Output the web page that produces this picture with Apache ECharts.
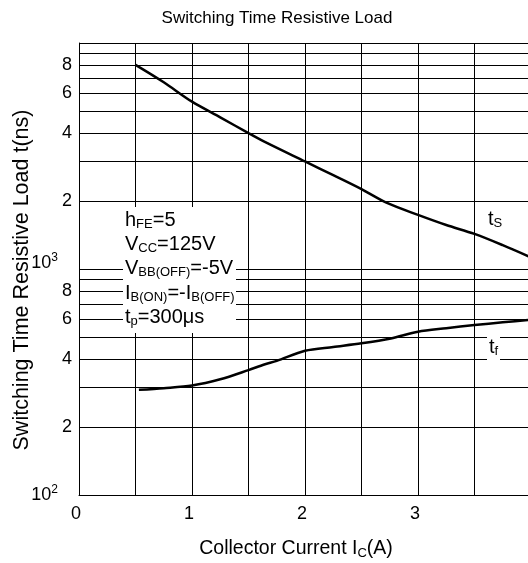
<!DOCTYPE html>
<html>
<head>
<meta charset="utf-8">
<script src="https://cdn.jsdelivr.net/npm/echarts@6/dist/echarts.min.js"></script>
<style>
  html, body { margin: 0; padding: 0; background: #fff; }
  #main { width: 528px; height: 563px; }
</style>
</head>
<body>
<div id="main"></div>
<script>
// t_S (storage time)
var tsCurrent = [0.5, 0.75, 1.0, 1.25, 1.5, 1.64, 2.0, 2.25, 2.5, 2.72, 3.0, 3.25, 3.5, 3.75, 4.0];
var tsTime = [8000, 6700, 5500, 4690, 3990, 3660, 2990, 2600, 2255, 1965, 1735, 1565, 1430, 1275, 1125];

// t_f (fall time)
var tfCurrent = [0.53, 0.75, 1.0, 1.25, 1.5, 1.64, 1.75, 2.0, 2.25, 2.5, 2.76, 3.0, 3.25, 3.5, 3.75, 4.0];
var tfTime = [292, 297, 305, 325, 357, 378, 392, 435, 452, 469, 493, 528, 547, 565, 581, 597];

// minor grid lines of the log axis and their labels
var gridValues = [200, 300, 400, 500, 600, 700, 800, 900, 2000, 3000, 4000, 5000, 6000, 7000, 8000, 9000];
var gridLabels = ['2', '', '4', '', '6', '', '8', '', '2', '', '4', '', '6', '', '8', ''];

var xTickLabels = ['0', '1', '2', '3'];

var FONT = 'Liberation Sans, Arial, sans-serif';

var chart = echarts.init(document.getElementById('main'));

function pairs(xs, ys) {
  var out = [];
  for (var i = 0; i < xs.length; i++) out.push([xs[i], ys[i]]);
  return out;
}

var sub = { fontSize: 13, lineHeight: 12, verticalAlign: 'bottom', fontFamily: FONT, fill: '#000' };

function noteText(x, y, txt) {
  return {
    type: 'text', x: x, y: y, z: 101,
    style: {
      text: txt, fontSize: 20, lineHeight: 22, fontFamily: FONT, fill: '#000',
      verticalAlign: 'middle', align: 'left',
      rich: { s: sub }
    }
  };
}

var option = {
  animation: false,
  textStyle: { fontFamily: FONT, color: '#000' },
  title: {
    text: 'Switching Time Resistive Load',
    left: 272, top: 5, textAlign: 'center',
    textStyle: { fontSize: 17, fontWeight: 'normal', color: '#000', fontFamily: FONT }
  },
  grid: { left: 79, top: 43, right: -3, bottom: 68, containLabel: false, outerBoundsMode: 'none' },
  xAxis: {
    type: 'value', min: 0, max: 4, interval: 0.5,
    name: 'Collector Current I{s|C}(A)',
    nameLocation: 'middle', nameGap: 43, nameMoveOverlap: false,
    nameTextStyle: {
      fontSize: 19.5, lineHeight: 22, color: '#000', fontFamily: FONT, padding: [0, 18, 0, 0],
      rich: { s: { fontSize: 13, lineHeight: 12, verticalAlign: 'bottom', color: '#000', fontFamily: FONT } }
    },
    axisLine: { show: true, lineStyle: { color: '#000', width: 1 } },
    axisTick: { show: false },
    axisLabel: {
      margin: 10, fontSize: 18, color: '#000', padding: [0, 6, 0, 0],
      formatter: function (v) {
        var i = xTickLabels.indexOf(String(v));
        return i >= 0 ? xTickLabels[i] : '';
      }
    },
    splitLine: { show: true, lineStyle: { color: '#000', width: 1 } }
  },
  yAxis: {
    type: 'log', logBase: 10, min: 100, max: 10000,
    name: 'Switching Time Resistive Load t(ns)',
    nameLocation: 'middle', nameGap: 46, nameMoveOverlap: false,
    nameTextStyle: { fontSize: 21.5, color: '#000', fontFamily: FONT, padding: [0, 22, 0, 0] },
    axisLine: { show: true, lineStyle: { color: '#000', width: 1 } },
    axisTick: { show: false },
    axisLabel: {
      margin: 21, fontSize: 18, color: '#000',
      formatter: function (v) {
        var r = Math.round(v);
        if (r === 100) return '{a|10}{s|2}';
        if (r === 1000) return '{a|10}{s|3}\n{g| }';
        return '';
      },
      rich: {
        a: { fontSize: 18, lineHeight: 22, color: '#000', fontFamily: FONT },
        s: { fontSize: 12, lineHeight: 10, verticalAlign: 'top', color: '#000', fontFamily: FONT },
        g: { fontSize: 6, lineHeight: 12 }
      }
    },
    splitLine: { show: true, lineStyle: { color: '#000', width: 1 } }
  },
  series: [
    {
      name: 'ts', type: 'line', data: pairs(tsCurrent, tsTime),
      showSymbol: false, smooth: 0.3, silent: true,
      lineStyle: { color: '#000', width: 2.5 },
      markLine: {
        silent: true, symbol: 'none', animation: false,
        lineStyle: { color: '#000', width: 1, type: 'solid' },
        label: {
          position: 'start', distance: 7, fontSize: 18, color: '#000', fontFamily: FONT,
          formatter: function (p) {
            var i = gridValues.indexOf(Math.round(p.value));
            return i >= 0 ? gridLabels[i] : '';
          }
        },
        emphasis: { disabled: true },
        data: gridValues.map(function (v) { return { yAxis: v }; })
      }
    },
    {
      name: 'tf', type: 'line', data: pairs(tfCurrent, tfTime),
      showSymbol: false, smooth: 0.3, silent: true,
      lineStyle: { color: '#000', width: 2.5 }
    }
  ],
  graphic: [
    { type: 'rect', z: 100, shape: { x: 123, y: 207, width: 113, height: 126 }, style: { fill: '#fff' } },
    noteText(125, 220, 'h{s|FE}=5'),
    noteText(125, 244, 'V{s|CC}=125V'),
    noteText(125, 268, 'V{s|BB(OFF)}=-5V'),
    noteText(125, 293, 'I{s|B(ON)}=-I{s|B(OFF)}'),
    noteText(125, 317, 't{s|p}=300μs'),
    noteText(488, 219, 't{s|S}'),
    { type: 'rect', z: 100, shape: { x: 487, y: 335, width: 13, height: 27 }, style: { fill: '#fff' } },
    noteText(489, 347, 't{s|f}')
  ]
};

chart.setOption(option);
</script>
</body>
</html>
